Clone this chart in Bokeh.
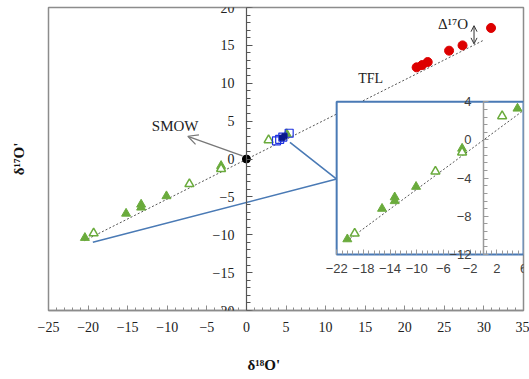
import numpy as np
from bokeh.plotting import figure
from bokeh.models import (LinearAxis, FixedTicker, Range1d, Title, Label,
                          Arrow, OpenHead)
from bokeh.embed import file_html
from bokeh.resources import INLINE

# ---------------- data ----------------
tri_fill_x = [-20.4, -15.2, -13.3, -13.3, -10.1, -3.2, 5.1]
tri_fill_y = [-10.4, -7.2, -6.0, -6.4, -4.9, -0.9, 3.3]
tri_open_x = [-19.3, -7.2, -3.2, 2.8]
tri_open_y = [-9.8, -3.3, -1.3, 2.5]
red_x = [21.5, 22.2, 22.9, 25.6, 27.3, 30.9]
red_y = [12.1, 12.4, 12.8, 14.3, 15.0, 17.3]
blue_x = [3.8, 4.2, 4.6, 5.4]
blue_y = [2.4, 2.6, 2.9, 3.4]
blue_fill_x = [4.5, 4.8]
blue_fill_y = [2.8, 3.0]
smow_x = [0.0]
smow_y = [0.0]
tfl_x = [-20.5, 30.0]
tfl_y = [-10.8, 15.7]
inset_tfl_x = [-20.5, 6.0]
inset_tfl_y = [-10.6, 3.1]
link_x = [-19.4, 11.4, 5.5]
link_y = [-11.0, -2.65, 2.2]

main_x_ticks = [-25, -20, -15, -10, -5, 0, 5, 10, 15, 20, 25, 30, 35]
main_y_ticks = [-20, -15, -10, -5, 0, 5, 10, 15, 20]
inset_x_ticks = [-22, -18, -14, -10, -6, -2, 2, 6]
inset_y_ticks = [-12, -8, -4, 0, 4]

x_title = "\u03b4\u00b9\u2078O'"
y_title = "\u03b4\u00b9\u2077O'"

# ---------------- layout constants ----------------
MX = (-25, 35)
MY = (-20, 20)
IX = (-22, 6)
IY = (-12, 4)
# inset frame in main-data units
BOX_L, BOX_R, BOX_B, BOX_T = 11.4, 35.0, -12.6, 7.55

sx = (IX[1] - IX[0]) / (BOX_R - BOX_L)
sy = (IY[1] - IY[0]) / (BOX_T - BOX_B)
ix_range = Range1d(IX[0] + (MX[0] - BOX_L) * sx, IX[0] + (MX[1] - BOX_L) * sx)
iy_range = Range1d(IY[0] + (MY[0] - BOX_B) * sy, IY[0] + (MY[1] - BOX_B) * sy)

SERIF = "Liberation Serif"
SANS = "Liberation Sans"
GREEN = "#6aab3c"
BLUE_BOX = "#4a7ab5"

p = figure(width=529, height=379, x_range=Range1d(*MX), y_range=Range1d(*MY),
           x_axis_type=None, y_axis_type=None, output_backend="svg",
           toolbar_location=None, min_border_left=48, min_border_right=6,
           min_border_top=7, min_border_bottom=69)
p.title.visible = False
p.extra_x_ranges = {"ix": ix_range}
p.extra_y_ranges = {"iy": iy_range}
p.outline_line_color = "#8c8c8c"
p.outline_line_width = 1.5
p.background_fill_color = "white"
p.border_fill_color = "white"

minus = lambda t: ("\u2212" + str(abs(t))) if t < 0 else str(t)

# main x axis (bottom)
xax = LinearAxis(ticker=FixedTicker(ticks=main_x_ticks,
                                    minor_ticks=list(range(MX[0], MX[1] + 1))))
xax.major_label_overrides = {t: minus(t) for t in main_x_ticks}
xax.axis_line_color = "#8c8c8c"
xax.axis_line_width = 1.5
xax.major_tick_line_color = "#8c8c8c"
xax.minor_tick_line_color = "#8c8c8c"
xax.major_tick_in = 5
xax.major_tick_out = 0
xax.minor_tick_in = 3
xax.minor_tick_out = 0
xax.major_label_standoff = 11
xax.major_label_text_font = SERIF
xax.major_label_text_font_size = "14px"
xax.major_label_text_color = "#222222"
p.add_layout(xax, "below")

# main y axis at x = 0
yax = LinearAxis(fixed_location=0,
                 ticker=FixedTicker(ticks=main_y_ticks,
                                    minor_ticks=list(range(MY[0], MY[1] + 1))))
yax.major_label_overrides = {t: minus(t) for t in main_y_ticks}
yax.axis_line_color = "#555555"
yax.axis_line_width = 1.2
yax.major_tick_line_color = "#555555"
yax.minor_tick_line_color = "#555555"
yax.major_tick_in = 6
yax.major_tick_out = 0
yax.minor_tick_in = 4
yax.minor_tick_out = 0
yax.major_label_standoff = 12
yax.major_label_text_font = SERIF
yax.major_label_text_font_size = "14px"
yax.major_label_text_color = "#222222"
p.add_layout(yax, "left")

# axis titles (an empty line pads each title away from the frame)
xt = Title(text="\n" + x_title, align="left", offset=199, standoff=8,
           text_font=SERIF, text_font_style="bold", text_font_size="15px",
           text_color="#111111")
p.add_layout(xt, "below")
yt = Title(text=y_title + "\n", align="center", standoff=12,
           text_font=SERIF, text_font_style="bold", text_font_size="15px",
           text_color="#111111")
p.add_layout(yt, "left")

# ---------------- main plot glyphs ----------------
p.line(tfl_x, tfl_y, line_color="#555555", line_dash="2 2", line_width=1)
p.line(link_x, link_y, line_color=BLUE_BOX, line_width=1.6)
p.scatter(tri_fill_x, tri_fill_y, marker="triangle", size=9,
          fill_color=GREEN, line_color=GREEN)
p.scatter(tri_open_x, tri_open_y, marker="triangle", size=9,
          fill_color="white", line_color=GREEN, line_width=1.5)
p.scatter(blue_x, blue_y, marker="square", size=8, fill_color=None,
          line_color="#1f33e0", line_width=1.2)
p.scatter(blue_fill_x, blue_fill_y, marker="square", size=5,
          fill_color="#0a1a8c", line_color="#0a1a8c")
p.scatter(red_x, red_y, marker="circle", size=9, fill_color="#dd0000",
          line_color="#dd0000")
p.scatter(smow_x, smow_y, marker="circle", size=8, fill_color="black",
          line_color="black")

# ---------------- inset ----------------
p.quad(left=[IX[0]], right=[IX[1]], bottom=[IY[0]], top=[IY[1]],
       x_range_name="ix", y_range_name="iy", fill_color="white",
       line_color=BLUE_BOX, line_width=2)
p.line(inset_tfl_x, inset_tfl_y, x_range_name="ix", y_range_name="iy",
       line_color="#555555", line_dash="2 2", line_width=1)
p.scatter(tri_fill_x, tri_fill_y, x_range_name="ix", y_range_name="iy",
          marker="triangle", size=9, fill_color=GREEN, line_color=GREEN)
p.scatter(tri_open_x, tri_open_y, x_range_name="ix", y_range_name="iy",
          marker="triangle", size=9, fill_color="white", line_color=GREEN,
          line_width=1.5)

ixax = LinearAxis(x_range_name="ix", y_range_name="iy", fixed_location=IY[0],
                  bounds=IX,
                  ticker=FixedTicker(ticks=inset_x_ticks,
                                     minor_ticks=list(np.arange(IX[0], IX[1] + 0.01, 0.8))))
ixax.axis_line_color = None
ixax.major_tick_line_color = "#999999"
ixax.minor_tick_line_color = "#999999"
ixax.major_tick_in = 5
ixax.major_tick_out = 0
ixax.minor_tick_in = 4
ixax.minor_tick_out = 0
ixax.major_label_standoff = 10
ixax.major_label_text_font = SANS
ixax.major_label_text_font_size = "13px"
ixax.major_label_text_color = "#404040"
p.add_layout(ixax, "below")

iyax = LinearAxis(x_range_name="ix", y_range_name="iy", fixed_location=0,
                  bounds=IY,
                  ticker=FixedTicker(ticks=inset_y_ticks,
                                     minor_ticks=list(np.arange(IY[0], IY[1] + 0.01, 0.8))))
iyax.axis_line_color = "#9a9a9a"
iyax.axis_line_width = 1.5
iyax.major_tick_line_color = "#9a9a9a"
iyax.minor_tick_line_color = "#9a9a9a"
iyax.major_tick_in = 5
iyax.major_tick_out = 0
iyax.minor_tick_in = 4
iyax.minor_tick_out = 0
iyax.major_label_standoff = 12
iyax.major_label_text_font = SANS
iyax.major_label_text_font_size = "13px"
iyax.major_label_text_color = "#404040"
p.add_layout(iyax, "left")

# ---------------- annotations ----------------
p.add_layout(Label(x=-9.0, y=4.3, text="SMOW", text_align="center",
                   text_baseline="middle", text_font=SERIF,
                   text_font_size="15px", text_color="#222222"))
p.add_layout(Label(x=15.7, y=10.6, text="TFL", text_align="center",
                   text_baseline="middle", text_font=SERIF,
                   text_font_size="14px", text_color="#222222"))
p.add_layout(Label(x=26.1, y=17.8, text="\u0394\u00b9\u2077O", text_align="center",
                   text_baseline="middle", text_font=SERIF,
                   text_font_size="15px", text_color="#222222"))
p.add_layout(Arrow(end=OpenHead(size=10, line_color="#777777", line_width=1.2),
                   x_start=-0.5, y_start=0.4, x_end=-7.4, y_end=3.0,
                   line_color="#777777", line_width=1.3))
p.add_layout(Arrow(start=OpenHead(size=6, line_color="#333333", line_width=1),
                   end=OpenHead(size=6, line_color="#333333", line_width=1),
                   x_start=28.75, y_start=15.2, x_end=28.75, y_end=17.6,
                   line_color="#333333", line_width=1))

open("out.html", "w").write(file_html(p, INLINE))
